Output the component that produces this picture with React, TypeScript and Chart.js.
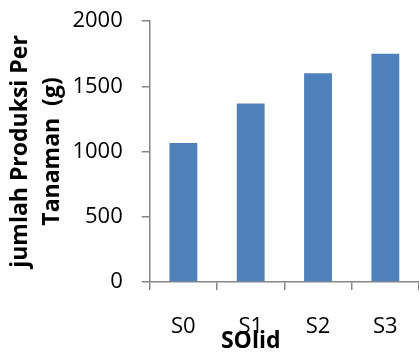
import React, { useEffect, useRef } from "react";
import { Chart, registerables } from "chart.js";

Chart.register(...registerables);

const categories = ["S0", "S1", "S2", "S3"];
const produksi = [1065, 1367, 1600, 1750];
const yMin = 0;
const yMax = 2000;
const yStep = 500;
const yTitleLines = ["jumlah Produksi Per", "Tanaman  (g)"];
const xTitle = "SOlid";

const AXIS_GREY = "#868686";
const BAR_BLUE = "#4F81BD";
const FONT = "'Open Sans', 'Noto Sans', sans-serif";

// The x-axis title sits under the second category label.
const xTitlePlugin = {
  id: "xTitleUnderSecondTick",
  afterDraw(chart: any) {
    const xs = chart.scales.x;
    const ctx = chart.ctx as CanvasRenderingContext2D;
    ctx.save();
    ctx.font = `bold 23px ${FONT}`;
    ctx.fillStyle = "#000";
    ctx.textAlign = "center";
    ctx.textBaseline = "middle";
    ctx.fillText(xTitle, xs.getPixelForTick(1), xs.bottom - 12);
    ctx.restore();
  },
};

export default function App() {
  const canvasRef = useRef<HTMLCanvasElement | null>(null);

  useEffect(() => {
    const canvas = canvasRef.current;
    if (!canvas) return;
    const chart = new Chart(canvas, {
      type: "bar",
      data: {
        labels: categories,
        datasets: [
          {
            data: produksi,
            backgroundColor: BAR_BLUE,
            borderWidth: 0,
            barPercentage: 0.9,
            categoryPercentage: 0.46,
          },
        ],
      },
      plugins: [xTitlePlugin],
      options: {
        responsive: false,
        animation: false,
        devicePixelRatio: 1,
        layout: { padding: { top: 21, right: -2, bottom: 0, left: 4 } },
        plugins: {
          legend: { display: false },
          tooltip: { enabled: false },
        },
        scales: {
          x: {
            offset: true,
            grid: {
              offset: true,
              drawOnChartArea: false,
              tickLength: 8,
              color: AXIS_GREY,
              lineWidth: 1.5,
            },
            border: { color: AXIS_GREY, width: 1.5 },
            ticks: {
              color: "#000",
              font: { family: FONT, size: 22 },
              padding: 24,
            },
            title: { display: false },
            afterFit: (scale: any) => {
              scale.height = 71;
              scale.paddingLeft = 0;
              scale.paddingRight = -2;
            },
          },
          y: {
            min: yMin,
            max: yMax,
            grid: {
              drawOnChartArea: false,
              tickLength: 8,
              color: AXIS_GREY,
              lineWidth: 1.5,
            },
            border: { color: AXIS_GREY, width: 1.5 },
            ticks: {
              stepSize: yStep,
              color: "#000",
              font: { family: FONT, size: 22 },
              padding: 19,
              callback: (v: number | string) => String(v),
            },
            title: {
              display: true,
              text: yTitleLines,
              color: "#000",
              font: { family: FONT, size: 23, weight: "bold", lineHeight: 1.4 },
              padding: { top: 0, bottom: -15 },
            },
            afterFit: (scale: any) => {
              scale.paddingTop = 0;
            },
          },
        },
      },
    });
    return () => chart.destroy();
  }, []);

  return (
    <div style={{ position: "absolute", left: 0, top: 0, width: 419, height: 353, background: "#fff" }}>
      <canvas ref={canvasRef} width={419} height={353} />
    </div>
  );
}
